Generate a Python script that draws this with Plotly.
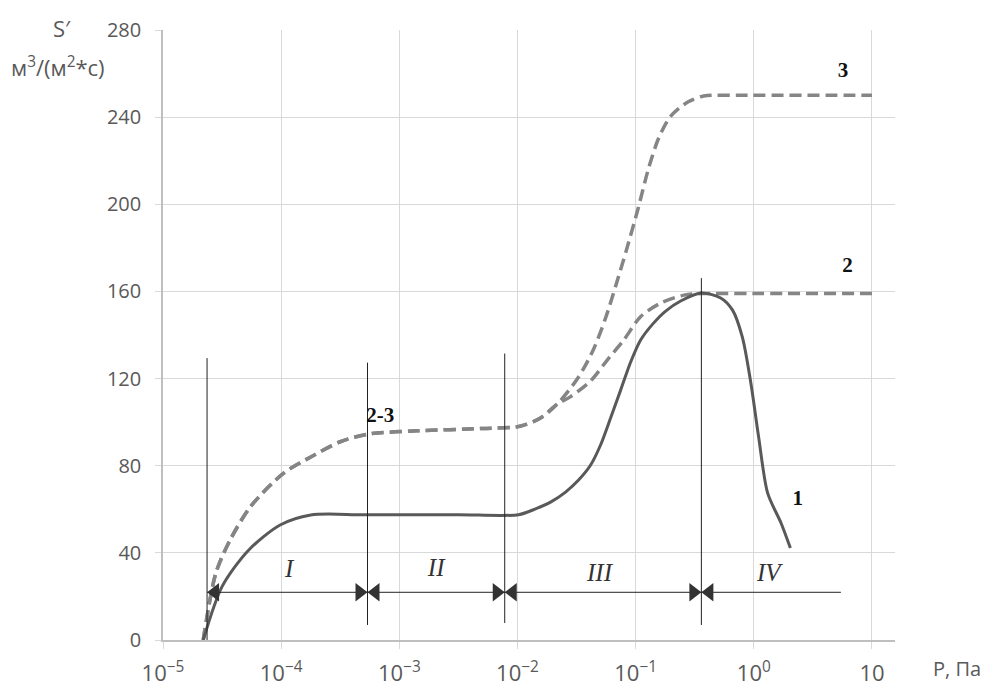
import plotly.graph_objects as go

# ---------------- data ----------------
# Curve 1 (solid)
p1 = [2.19e-5, 3.16e-5, 5.25e-5, 9.8e-5, 1.78e-4, 5.0e-4, 3.16e-3, 1.02e-2, 1.422e-2, 1.905e-2,
      2.553e-2, 3.289e-2, 4.159e-2, 5.047e-2, 6.138e-2, 7.464e-2, 9.078e-2, 0.1102, 0.1393,
      0.1795, 0.2405, 0.3556, 0.525, 0.661, 0.80, 0.944, 1.10, 1.31, 1.70, 2.04]
s1 = [0, 24.5, 41, 52.8, 57.4, 57.5, 57.5, 57.5, 60.2, 63.3,
      67.9, 73.4, 80.3, 89.5, 101.9, 114.7, 127.6, 137.7, 145.0,
      151.0, 155.6, 159.3, 157, 151.4, 139, 118, 93, 67.4, 53.7, 42.2]

# Shared part of curves 2 and 3 ("2-3")
p23 = [2.19e-5, 2.8e-5, 3.7e-5, 5.5e-5, 1.05e-4, 1.78e-4, 3.16e-4, 5.4e-4, 1.4e-3, 5.1e-3,
       1.07e-2, 1.58e-2, 2.19e-2]
s23 = [0, 30.7, 45.9, 61.2, 76.6, 84, 91, 94.5, 96, 97.1,
       98.2, 102, 108.5]

# Curve 2 continuation
p2 = [2.82e-2, 4.17e-2, 5.75e-2, 7.94e-2, 0.110, 0.162, 0.257, 0.355, 1.0, 10.0]
s2 = [111.7, 119, 128.5, 137.7, 148.4, 154.6, 158.3, 159, 159, 159]

# Curve 3 continuation
p3 = [3.289e-2, 4.406e-2, 5.566e-2, 6.776e-2, 8.395e-2, 0.104, 0.1288, 0.1567, 0.1982, 0.2761,
      0.3767, 0.776, 10.0]
s3 = [120.7, 133.5, 147.8, 162.5, 179.4, 197.3, 216.6, 230.4, 240.5, 246.9,
      249.7, 250, 250]

# Region boundaries (vertical lines): pressure, bottom, top
bounds_p = [2.36e-5, 5.38e-4, 7.8e-3, 0.36]
bounds_y0 = [0, 6.9, 7.8, 6.9]
bounds_y1 = [129.4, 127.3, 131.5, 166.1]
arrow_y = 21.9
arrow_end = 5.46

regions = ["I", "II", "III", "IV"]
regions_p = [1.17e-4, 2.05e-3, 4.95e-2, 1.34]
regions_y = [31.7, 32.1, 29.8, 29.8]

curve_labels = ["2-3", "3", "2", "1"]
curve_labels_p = [6.9e-4, 5.68, 6.22, 2.36]
curve_labels_y = [102.3, 260.7, 171.3, 64.2]

xtick_vals = [1e-5, 1e-4, 1e-3, 1e-2, 1e-1, 1, 10]
xtick_text = ["10<sup>−5</sup>", "10<sup>−4</sup>", "10<sup>−3</sup>", "10<sup>−2</sup>",
              "10<sup>−1</sup>", "10<sup>0</sup>", "10"]
ytick_vals = [0, 40, 80, 120, 160, 200, 240, 280]

# ---------------- figure ----------------
fig = go.Figure()

dash_col = "#858585"
solid_col = "#595959"

fig.add_trace(go.Scatter(x=p23 + p3, y=s23 + s3, mode="lines",
                         line=dict(color=dash_col, width=3.5, dash="12px,6px", shape="spline", smoothing=0.8),
                         hoverinfo="skip"))
fig.add_trace(go.Scatter(x=p23 + p2, y=s23 + s2, mode="lines",
                         line=dict(color=dash_col, width=3.5, dash="12px,6px", shape="spline", smoothing=0.8),
                         hoverinfo="skip"))
fig.add_trace(go.Scatter(x=p1, y=s1, mode="lines",
                         line=dict(color=solid_col, width=3, shape="spline", smoothing=0.8),
                         hoverinfo="skip"))

# vertical boundary lines
for bp, y0, y1 in zip(bounds_p, bounds_y0, bounds_y1):
    fig.add_trace(go.Scatter(x=[bp, bp], y=[y0, y1], mode="lines",
                             line=dict(color="#222222", width=1), hoverinfo="skip"))

# horizontal arrow line
fig.add_trace(go.Scatter(x=[bounds_p[0], arrow_end], y=[arrow_y, arrow_y], mode="lines",
                         line=dict(color="#222222", width=1), hoverinfo="skip"))

# arrowheads (tips on boundary lines); offset of half marker size in decades
msize = 16
px_per_decade = 118.0
off = 10 ** ((msize / 2) / px_per_decade)
left_x = [b * off for b in bounds_p]          # triangle-left, tip on line
right_x = [b / off for b in bounds_p[1:]]     # triangle-right, tip on line
fig.add_trace(go.Scatter(x=left_x, y=[arrow_y] * len(left_x), mode="markers",
                         marker=dict(symbol="triangle-left", size=msize, color="#333333", line=dict(width=0)),
                         hoverinfo="skip"))
fig.add_trace(go.Scatter(x=right_x, y=[arrow_y] * len(right_x), mode="markers",
                         marker=dict(symbol="triangle-right", size=msize, color="#333333", line=dict(width=0)),
                         hoverinfo="skip"))

# region labels
fig.add_trace(go.Scatter(x=regions_p, y=regions_y, mode="text", text=regions,
                         textfont=dict(family="Liberation Serif", size=25, color="#333333"),
                         texttemplate="<i>%{text}</i>", hoverinfo="skip"))
# curve labels
fig.add_trace(go.Scatter(x=curve_labels_p, y=curve_labels_y, mode="text", text=curve_labels,
                         textfont=dict(family="Liberation Serif", size=21, color="#111111"),
                         texttemplate="<b>%{text}</b>", hoverinfo="skip"))

axis_font = dict(family="Open Sans", size=20, color="#595959")
title_font = dict(family="Open Sans", size=22, color="#595959")

fig.update_layout(
    width=984, height=693,
    margin=dict(l=163, r=89, t=30, b=53),
    paper_bgcolor="white", plot_bgcolor="white",
    showlegend=False,
    xaxis=dict(type="log", range=[-5, 1.195], tickvals=xtick_vals, ticktext=xtick_text,
               showgrid=True, gridcolor="#d9d9d9", gridwidth=1.3,
               showline=True, linecolor="#bfbfbf", linewidth=1.5,
               ticks="outside", ticklen=7, tickcolor="#d9d9d9",
               zeroline=False, ticklabelstandoff=6, automargin=False,
               tickfont=dict(family="Open Sans", size=22, color="#595959")),
    yaxis=dict(range=[0, 280], tickvals=ytick_vals,
               showgrid=True, gridcolor="#d9d9d9", gridwidth=1.3,
               showline=True, linecolor="#bfbfbf", linewidth=1.5,
               ticks="outside", ticklen=6, tickcolor="#d9d9d9",
               zeroline=False, tickfont=axis_font, ticklabelstandoff=10, automargin=False),
    annotations=[
        dict(text="S′", xref="paper", yref="paper", x=0, y=1, xanchor="center", yanchor="middle",
             xshift=-101, yshift=2, showarrow=False, font=title_font),
        dict(text="м<sup>3</sup>/(м<sup>2</sup>*с)", xref="paper", yref="paper", x=0, y=1,
             xanchor="center", yanchor="middle", xshift=-105, yshift=-36, showarrow=False, font=title_font),
        dict(text="Р, Па", xref="paper", yref="paper", x=1, y=0, xanchor="center", yanchor="middle",
             xshift=62, yshift=-28, showarrow=False, font=dict(family="Open Sans", size=20, color="#595959")),
    ],
)

fig.write_html("out.html")
